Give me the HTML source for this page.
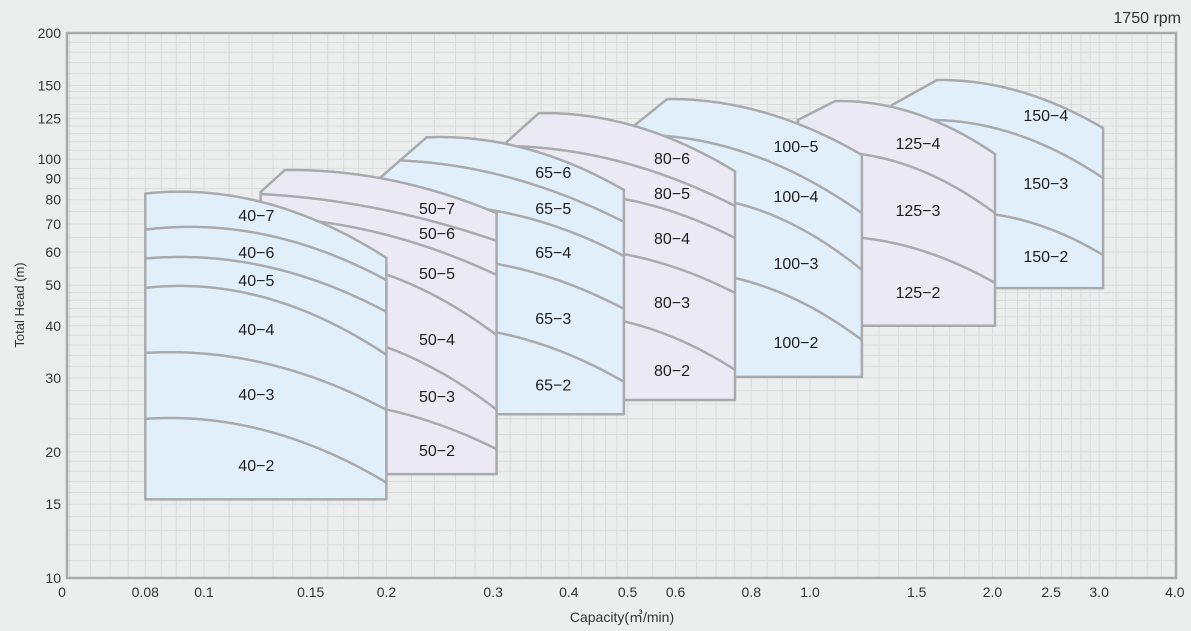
<!DOCTYPE html>
<html><head><meta charset="utf-8">
<style>
html,body{margin:0;padding:0;background:#eceeed;}
svg{display:block;font-family:"Liberation Sans","Noto Sans CJK KR",sans-serif;}
</style></head>
<body>
<svg id="chart" width="1191" height="631" viewBox="0 0 1191 631" xmlns="http://www.w3.org/2000/svg">
<rect x="0" y="0" width="1191" height="631" fill="#eceeed"/>
<g id="grid"></g>
<g id="families"></g>
<rect x="67" y="33" width="1109" height="545" fill="none" stroke="#a9aaac" stroke-width="2.5"/>
<g id="yticks"></g>
<g id="xticks"></g>
<text x="1181" y="23" text-anchor="end" font-size="16" fill="#333">1750 rpm</text>
<text x="62" y="597" text-anchor="middle" font-size="14" fill="#333">0</text>
<text transform="translate(24,305) rotate(-90)" text-anchor="middle" font-size="13" fill="#333">Total Head (m)</text>
<text x="622" y="622" text-anchor="middle" font-size="14" fill="#333">Capacity(㎥/min)</text>
</svg>
<script>
const yTicks=[10,15,20,30,40,50,60,70,80,90,100,125,150,200];
const xTicks=[0.08,0.1,0.15,0.2,0.3,0.4,0.5,0.6,0.8,1.0,1.5,2.0,2.5,3.0,4.0];
const xTickLabels=["0.08","0.1","0.15","0.2","0.3","0.4","0.5","0.6","0.8","1.0","1.5","2.0","2.5","3.0","4.0"];
const familyNames=["150","125","100","80","65","50","40"];
const familyFill=["#e1effa","#ebe9f3","#e1effa","#ebe9f3","#e1effa","#ebe9f3","#e1effa"];
const familyQLeft=[1.366,0.955,0.508,0.316,0.195,0.124,0.08];
const familyHDiag=[134.6,124.0,119.0,109.9,90.1,83.4,null];
const familyQTopStart=[1.62,1.10,0.581,0.357,0.233,0.136,0.08];
const familyQRight=[3.045,2.02,1.218,0.752,0.493,0.304,0.2];
const familyHBottom=[49.2,40.0,30.2,26.6,24.6,17.7,15.4];
// top curves: [qPeak,hPeak,qEnd,hEnd]
const familyTop=[
 [1.638,154.5,3.045,118.6],
 [1.121,137.6,2.02,102.8],
 [0.588,139.1,1.218,102.3],
 [0.365,128.8,0.752,93.5],
 [0.245,112.9,0.493,84.4],
 [0.139,94.2,0.304,74.3],
 [0.0913,83.6,0.2,58.1]
];
const familyCurves=[
 [[1.578,124.0,3.045,90.1],[1.768,74.8,3.045,59.0]],
 [[1.079,104.0,2.02,74.3],[1.079,65.5,2.02,50.6]],
 [[0.524,114.2,1.218,74.3],[0.610,81.6,1.218,54.4],[0.610,53.8,1.218,37.0]],
 [[0.308,107.5,0.752,77.3],[0.387,83.0,0.752,64.8],[0.387,61.3,0.752,47.9],[0.387,42.7,0.752,31.4]],
 [[0.195,99.5,0.493,70.8],[0.236,77.7,0.493,58.7],[0.236,58.1,0.493,43.9],[0.236,40.0,0.493,29.4]],
 [[0.106,83.0,0.304,63.8],[0.119,72.7,0.304,52.9],[0.139,58.1,0.304,38.0],[0.139,39.1,0.304,25.2],[0.144,26.6,0.304,20.3]],
 [[0.0948,68.9,0.2,51.4],[0.0913,58.4,0.2,43.2],[0.0913,49.8,0.2,34.1],[0.0879,34.6,0.2,25.2],[0.0879,24.1,0.2,16.9]]
];
const familyLabelQ=[2.45,1.507,0.948,0.592,0.377,0.2424,0.122];
const familyLabelH=[
 [127.4,87.7,58.7],
 [109.2,75.6,48.2],
 [107.5,81.6,56.5,36.6],
 [100.6,83.0,64.8,45.6,31.4],
 [93.2,76.4,60.0,41.7,29.0],
 [76.4,66.6,53.5,37.2,27.2,20.2],
 [73.6,60.0,51.4,39.3,27.5,18.6]
];
const familyLabelText=[
 ["150−4","150−3","150−2"],
 ["125−4","125−3","125−2"],
 ["100−5","100−4","100−3","100−2"],
 ["80−6","80−5","80−4","80−3","80−2"],
 ["65−6","65−5","65−4","65−3","65−2"],
 ["50−7","50−6","50−5","50−4","50−3","50−2"],
 ["40−7","40−6","40−5","40−4","40−3","40−2"]
];
const gridQ=[0.06,0.065,0.07,0.075,0.085,0.09,0.095,0.11,0.12,0.13,0.14,0.16,0.17,0.18,0.19,0.22,0.24,0.26,0.28,0.32,0.34,0.36,0.38,0.42,0.44,0.46,0.48,0.55,0.65,0.7,0.75,0.85,0.9,0.95,1.1,1.2,1.3,1.4,1.6,1.7,1.8,1.9,2.1,2.2,2.3,2.4,2.6,2.7,2.8,2.9,3.2,3.4,3.6,3.8];
const gridH=[11,12,13,14,16,17,18,19,22,24,26,28,32,34,36,38,42,44,46,48,55,65,75,85,95,105,110,115,120,130,135,140,145,160,170,180,190];

const NS="http://www.w3.org/2000/svg";
function X(q){return 810+606*Math.log10(q);}
function Y(h){return 33+418.9*(Math.log10(200)-Math.log10(h));}
function mk(tag,attrs,parent){const e=document.createElementNS(NS,tag);for(const k in attrs)e.setAttribute(k,attrs[k]);parent.appendChild(e);return e;}
function curveY(c,x){const xp=X(c[0]),yp=Y(c[1]),xe=X(c[2]),ye=Y(c[3]);const t=(x-xp)/(xe-xp);return yp+(ye-yp)*t*t;}
function curvePts(c,qa,qb){const xa=X(qa),xb=X(qb);const pts=[];const n=Math.max(4,Math.ceil((xb-xa)/2));for(let i=0;i<=n;i++){const x=xa+(xb-xa)*i/n;pts.push([x,curveY(c,x)]);}return pts;}

const grid=document.getElementById('grid');
gridQ.concat(xTicks.slice(0,-1)).forEach(q=>{
 const l=mk('line',{x1:X(q),x2:X(q),y1:33,y2:578,stroke:'#dadbdc','stroke-width':1},grid);
 
 
});
gridH.concat(yTicks.slice(1,-1)).forEach(h=>{
 const l=mk('line',{x1:67,x2:1176,y1:Y(h),y2:Y(h),stroke:'#dadbdc','stroke-width':1},grid);
 
 
});

const yt=document.getElementById('yticks');
yTicks.forEach(h=>{
 const t=mk('text',{x:61,y:Y(h)+5,'text-anchor':'end','font-size':14,fill:'#333'},yt);
 t.textContent=String(h);
 
 
});
const xt=document.getElementById('xticks');
xTicks.forEach((q,i)=>{
 const t=mk('text',{x:X(q),y:597,'text-anchor':'middle','font-size':14,fill:'#333'},xt);
 t.textContent=xTickLabels[i];
 
 
});

const fam=document.getElementById('families');
const defs=mk('defs',{},fam);
familyNames.forEach((name,i)=>{
 const g=mk('g',{},fam);
 
 
 const qL=familyQLeft[i],qR=familyQRight[i],hb=familyHBottom[i],top=familyTop[i];
 let pts=[[X(qL),Y(hb)]];
 if(familyHDiag[i]!==null){pts.push([X(qL),Y(familyHDiag[i])]);}
 pts=pts.concat(curvePts(top,familyQTopStart[i],qR));
 pts.push([X(qR),Y(hb)]);
 const d='M'+pts.map(p=>p[0].toFixed(1)+','+p[1].toFixed(1)).join('L')+'Z';
 const cp=mk('clipPath',{id:'clip'+i},defs);
 mk('path',{d:d},cp);
 const poly=mk('path',{d:d,fill:familyFill[i],stroke:'none'},g);
 
 
 const cg=mk('g',{'clip-path':'url(#clip'+i+')'},g);
 familyCurves[i].forEach(c=>{
  const cpts=curvePts(c,qL,qR);
  const p=mk('path',{d:'M'+cpts.map(p=>p[0].toFixed(1)+','+p[1].toFixed(1)).join('L'),fill:'none',stroke:'#a9aaad','stroke-width':2.5},cg);
  
  
 });
 const outline=mk('path',{d:d,fill:'none',stroke:'#a9aaad','stroke-width':2.5,'stroke-linejoin':'round'},g);
 
 
 familyLabelH[i].forEach((h,j)=>{
  const t=mk('text',{x:X(familyLabelQ[i]),y:Y(h)+6,'text-anchor':'middle','font-size':16,fill:'#1e1e1e'},g);
  t.textContent=familyLabelText[i][j];
  
  
 });
});
</script>
</body></html>
